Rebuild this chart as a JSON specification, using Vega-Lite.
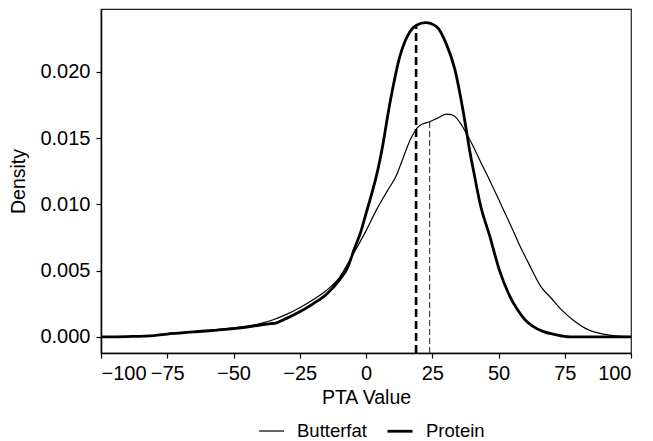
{
  "$schema": "https://vega.github.io/schema/vega-lite/v6.json",
  "width": 530,
  "height": 344,
  "autosize": "none",
  "padding": {"left": 101, "top": 9, "right": 22, "bottom": 88},
  "config": {
    "font": "Liberation Sans",
    "view": {"stroke": "#222", "strokeWidth": 1.2},
    "axis": {
      "domainColor": "black", "domainWidth": 1.5, "tickColor": "black", "tickWidth": 1.2, "tickSize": 5,
      "labelColor": "black", "labelFontSize": 20, "titleColor": "black", "titleFontSize": 19.5,
      "titleFontWeight": "normal", "grid": false
    },
    "legend": {"labelFontSize": 18.5, "labelColor": "black"}
  },
  "datasets": {
    "curves": [
      {"series": "Butterfat", "pta": -100, "density": 0},
      {"series": "Butterfat", "pta": -90, "density": 0.00003},
      {"series": "Butterfat", "pta": -80, "density": 0.0001},
      {"series": "Butterfat", "pta": -75, "density": 0.00025},
      {"series": "Butterfat", "pta": -65, "density": 0.0004},
      {"series": "Butterfat", "pta": -50, "density": 0.00068},
      {"series": "Butterfat", "pta": -45, "density": 0.0008},
      {"series": "Butterfat", "pta": -40, "density": 0.001},
      {"series": "Butterfat", "pta": -35, "density": 0.0013},
      {"series": "Butterfat", "pta": -30, "density": 0.0017},
      {"series": "Butterfat", "pta": -25, "density": 0.0022},
      {"series": "Butterfat", "pta": -20, "density": 0.0028},
      {"series": "Butterfat", "pta": -15, "density": 0.0035},
      {"series": "Butterfat", "pta": -10, "density": 0.0045},
      {"series": "Butterfat", "pta": -5, "density": 0.0062},
      {"series": "Butterfat", "pta": 0, "density": 0.008},
      {"series": "Butterfat", "pta": 4, "density": 0.0096},
      {"series": "Butterfat", "pta": 8, "density": 0.011},
      {"series": "Butterfat", "pta": 11.5, "density": 0.0122},
      {"series": "Butterfat", "pta": 14, "density": 0.0135},
      {"series": "Butterfat", "pta": 17, "density": 0.015},
      {"series": "Butterfat", "pta": 20, "density": 0.0159},
      {"series": "Butterfat", "pta": 24, "density": 0.01623},
      {"series": "Butterfat", "pta": 27, "density": 0.0165},
      {"series": "Butterfat", "pta": 30.5, "density": 0.0168},
      {"series": "Butterfat", "pta": 33, "density": 0.0167},
      {"series": "Butterfat", "pta": 36, "density": 0.016},
      {"series": "Butterfat", "pta": 38, "density": 0.0153},
      {"series": "Butterfat", "pta": 40.4, "density": 0.0144},
      {"series": "Butterfat", "pta": 43, "density": 0.0133},
      {"series": "Butterfat", "pta": 46.7, "density": 0.0118},
      {"series": "Butterfat", "pta": 50, "density": 0.0104},
      {"series": "Butterfat", "pta": 53, "density": 0.0091},
      {"series": "Butterfat", "pta": 56, "density": 0.0078},
      {"series": "Butterfat", "pta": 58, "density": 0.0069},
      {"series": "Butterfat", "pta": 61, "density": 0.0057},
      {"series": "Butterfat", "pta": 66, "density": 0.0038},
      {"series": "Butterfat", "pta": 70, "density": 0.0029},
      {"series": "Butterfat", "pta": 74, "density": 0.002},
      {"series": "Butterfat", "pta": 78, "density": 0.0013},
      {"series": "Butterfat", "pta": 83, "density": 0.00063},
      {"series": "Butterfat", "pta": 90, "density": 0.0002},
      {"series": "Butterfat", "pta": 100, "density": 0.00002},
      {"series": "Protein", "pta": -100, "density": 0},
      {"series": "Protein", "pta": -90, "density": 0.00003},
      {"series": "Protein", "pta": -80, "density": 0.0001},
      {"series": "Protein", "pta": -75, "density": 0.00022},
      {"series": "Protein", "pta": -65, "density": 0.00038},
      {"series": "Protein", "pta": -50, "density": 0.00063},
      {"series": "Protein", "pta": -45, "density": 0.00075},
      {"series": "Protein", "pta": -40, "density": 0.0009},
      {"series": "Protein", "pta": -36, "density": 0.001},
      {"series": "Protein", "pta": -34, "density": 0.00105},
      {"series": "Protein", "pta": -30, "density": 0.0014},
      {"series": "Protein", "pta": -25, "density": 0.0019},
      {"series": "Protein", "pta": -20, "density": 0.0025},
      {"series": "Protein", "pta": -15, "density": 0.0032},
      {"series": "Protein", "pta": -10, "density": 0.0043},
      {"series": "Protein", "pta": -7, "density": 0.0052},
      {"series": "Protein", "pta": -4.3, "density": 0.0067},
      {"series": "Protein", "pta": -2, "density": 0.0079},
      {"series": "Protein", "pta": 0, "density": 0.0093},
      {"series": "Protein", "pta": 2, "density": 0.0107},
      {"series": "Protein", "pta": 4, "density": 0.0122},
      {"series": "Protein", "pta": 6, "density": 0.0141},
      {"series": "Protein", "pta": 9, "density": 0.0176},
      {"series": "Protein", "pta": 12.7, "density": 0.0211},
      {"series": "Protein", "pta": 16.5, "density": 0.023},
      {"series": "Protein", "pta": 19, "density": 0.0235},
      {"series": "Protein", "pta": 22.5, "density": 0.0237},
      {"series": "Protein", "pta": 26.6, "density": 0.0234},
      {"series": "Protein", "pta": 30.3, "density": 0.0221},
      {"series": "Protein", "pta": 33.5, "density": 0.0202},
      {"series": "Protein", "pta": 36.6, "density": 0.0171},
      {"series": "Protein", "pta": 39, "density": 0.0142},
      {"series": "Protein", "pta": 41, "density": 0.0121},
      {"series": "Protein", "pta": 43, "density": 0.0101},
      {"series": "Protein", "pta": 46.7, "density": 0.0076},
      {"series": "Protein", "pta": 50.4, "density": 0.005},
      {"series": "Protein", "pta": 54.2, "density": 0.0031},
      {"series": "Protein", "pta": 57, "density": 0.0021},
      {"series": "Protein", "pta": 60, "density": 0.0013},
      {"series": "Protein", "pta": 63, "density": 0.0008},
      {"series": "Protein", "pta": 67, "density": 0.0004},
      {"series": "Protein", "pta": 71, "density": 0.0002},
      {"series": "Protein", "pta": 77, "density": 0.00001},
      {"series": "Protein", "pta": 100, "density": 0}
    ],
    "means": [
      {"series": "Butterfat", "mean": 24, "top": 0.01623, "bottom": -0.00121},
      {"series": "Protein", "mean": 18.9, "top": 0.0235, "bottom": -0.00121}
    ]
  },
  "layer": [
    {
      "data": {"name": "curves"},
      "mark": {"type": "line", "color": "black", "interpolate": "monotone", "clip": true},
      "encoding": {
        "x": {
          "field": "pta", "type": "quantitative", "title": "PTA Value",
          "scale": {"domain": [-100, 100], "nice": false, "zero": false},
          "axis": {"values": [-100, -75, -50, -25, 0, 25, 50, 75, 100], "labelPadding": 5, "titlePadding": 5}
        },
        "y": {
          "field": "density", "type": "quantitative", "title": "Density",
          "scale": {"domain": [-0.00121, 0.02473], "nice": false, "zero": false},
          "axis": {"values": [0, 0.005, 0.01, 0.015, 0.02], "format": ".3f", "labelPadding": 6, "titlePadding": 11}
        },
        "detail": {"field": "series"},
        "strokeWidth": {
          "field": "series", "type": "nominal",
          "scale": {"domain": ["Butterfat", "Protein"], "range": [1.2, 2.8]},
          "legend": {
            "title": null, "orient": "none", "direction": "horizontal",
            "legendX": 157, "legendY": 408,
            "symbolType": "stroke", "symbolSize": 625, "symbolStrokeColor": "black",
            "labelOffset": 12, "columnPadding": 14
          }
        }
      }
    },
    {
      "data": {"name": "means"},
      "transform": [{"filter": "datum.series === 'Protein'"}],
      "mark": {"type": "rule", "color": "black", "strokeWidth": 2.6, "strokeDash": [8, 4]},
      "encoding": {
        "x": {"field": "mean", "type": "quantitative"},
        "y": {"field": "bottom", "type": "quantitative"},
        "y2": {"field": "top"}
      }
    },
    {
      "data": {"name": "means"},
      "transform": [{"filter": "datum.series === 'Butterfat'"}],
      "mark": {"type": "rule", "color": "#444", "strokeWidth": 1.2, "strokeDash": [6, 3]},
      "encoding": {
        "x": {"field": "mean", "type": "quantitative"},
        "y": {"field": "bottom", "type": "quantitative"},
        "y2": {"field": "top"}
      }
    }
  ]
}
